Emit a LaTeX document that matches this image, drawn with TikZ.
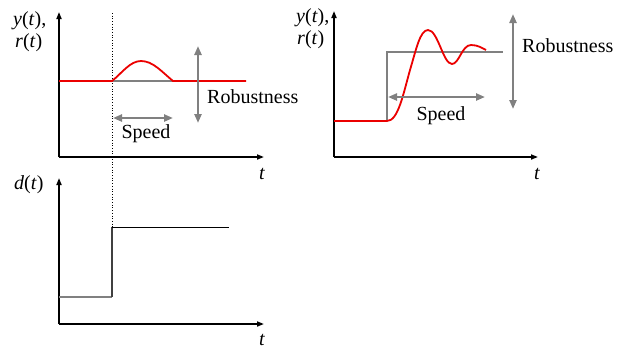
\documentclass[tikz,border=0pt]{standalone}
\usepackage{fontspec}
\setmainfont{Liberation Serif}
\usepackage{tikz}
\usetikzlibrary{arrows.meta,positioning}
\definecolor{arrowgray}{RGB}{128,128,128}
\definecolor{respred}{RGB}{235,0,0}

\begin{document}
\begin{tikzpicture}[
    x=1pt, y=-1pt,
    axis/.style={-{Triangle[length=7pt,width=5pt]}, line width=1.6pt},
    resp/.style={respred, line width=1.8pt},
    ref/.style={arrowgray, line width=1.3pt},
    dblarrow/.style={{Triangle[length=9pt,width=7pt]}-{Triangle[length=9pt,width=7pt]}, arrowgray, line width=2.2pt},
    lbl/.style={font=\fontsize{20}{23}\selectfont, inner sep=0pt}
]
    \useasboundingbox (0,0) rectangle (626,349);

    % top left: disturbance response
    \coordinate (o1) at (59,157);
    \coordinate (y1) at (59,12);
    \coordinate (x1) at (264,157);
    \draw[axis] (o1) -- (y1);
    \draw[axis] (o1) -- (x1);
    \node[lbl, anchor=west] (ylab1) at (13,21) {\textit{y}(\textit{t}),};
    \node[lbl, anchor=west] (rlab1) at (15,43) {\textit{r}(\textit{t})};
    \node[lbl] (tlab1) at (262,174) {\textit{t}};

    \coordinate (d0) at (112,13);
    \coordinate (d1) at (112,227);
    \draw[dotted, line width=0.7pt] (d0) -- (d1);

    \coordinate (bumpa) at (112,81);
    \coordinate (bumpb) at (173,81);
    \draw[ref] (bumpa) -- (bumpb);
    \draw[resp] (59,81) -- (bumpa)
        .. controls (122,73) and (130,61) .. (141,61)
        .. controls (153,61) and (162,72) .. (bumpb) -- (246,81);

    \coordinate (rob1a) at (198,46);
    \coordinate (rob1b) at (198,123);
    \draw[dblarrow] (rob1a) -- (rob1b);
    \node[lbl, anchor=west] (roblab1) at (207,97) {Robustness};

    \coordinate (spd1a) at (113,118);
    \coordinate (spd1b) at (173,118);
    \draw[dblarrow] (spd1a) -- (spd1b);
    \node[lbl] (spdlab1) at (146,134) {Speed};

    % top right: reference step response
    \coordinate (o2) at (334,157);
    \coordinate (y2) at (334,11);
    \coordinate (x2) at (538,157);
    \draw[axis] (o2) -- (y2);
    \draw[axis] (o2) -- (x2);
    \node[lbl, anchor=west] (ylab2) at (296,18) {\textit{y}(\textit{t}),};
    \node[lbl, anchor=west] (rlab2) at (297,40) {\textit{r}(\textit{t})};
    \node[lbl] (tlab2) at (537,174) {\textit{t}};

    \coordinate (stepa) at (387,121);
    \coordinate (stepb) at (387,52);
    \coordinate (stepc) at (503,52);
    \draw[ref] (stepa) -- (stepb) -- (stepc);
    \draw[resp] (334,121) -- (stepa)
        .. controls (398,121) and (403,95) .. (410,70)
        .. controls (416,50) and (420,30) .. (428,30)
        .. controls (438,30) and (443,64) .. (452,64)
        .. controls (459,64) and (462,45) .. (471,45)
        .. controls (478,45) and (482,48) .. (486,50);

    \coordinate (rob2a) at (513,14);
    \coordinate (rob2b) at (513,109);
    \draw[dblarrow] (rob2a) -- (rob2b);
    \node[lbl, anchor=west] (roblab2) at (522,46) {Robustness};

    \coordinate (spd2a) at (388,97);
    \coordinate (spd2b) at (485,97);
    \draw[dblarrow] (spd2a) -- (spd2b);
    \node[lbl] (spdlab2) at (441,116) {Speed};

    % bottom: disturbance step
    \coordinate (o3) at (59,324);
    \coordinate (y3) at (59,178);
    \coordinate (x3) at (264,324);
    \draw[axis] (o3) -- (y3);
    \draw[axis] (o3) -- (x3);
    \node[lbl, anchor=west] (dlab) at (14,185) {\textit{d}(\textit{t})};
    \node[lbl] (tlab3) at (262,340) {\textit{t}};

    \coordinate (dsa) at (59,297);
    \coordinate (dsb) at (112,297);
    \coordinate (dsc) at (112,227);
    \coordinate (dsd) at (229,227);
    \draw[arrowgray, line width=1.3pt] (dsa) -- (dsb);
    \draw[black!75, line width=1.3pt] (dsb) -- (dsc);
    \draw[line width=1pt] (dsc) -- (dsd);
\end{tikzpicture}
\end{document}
